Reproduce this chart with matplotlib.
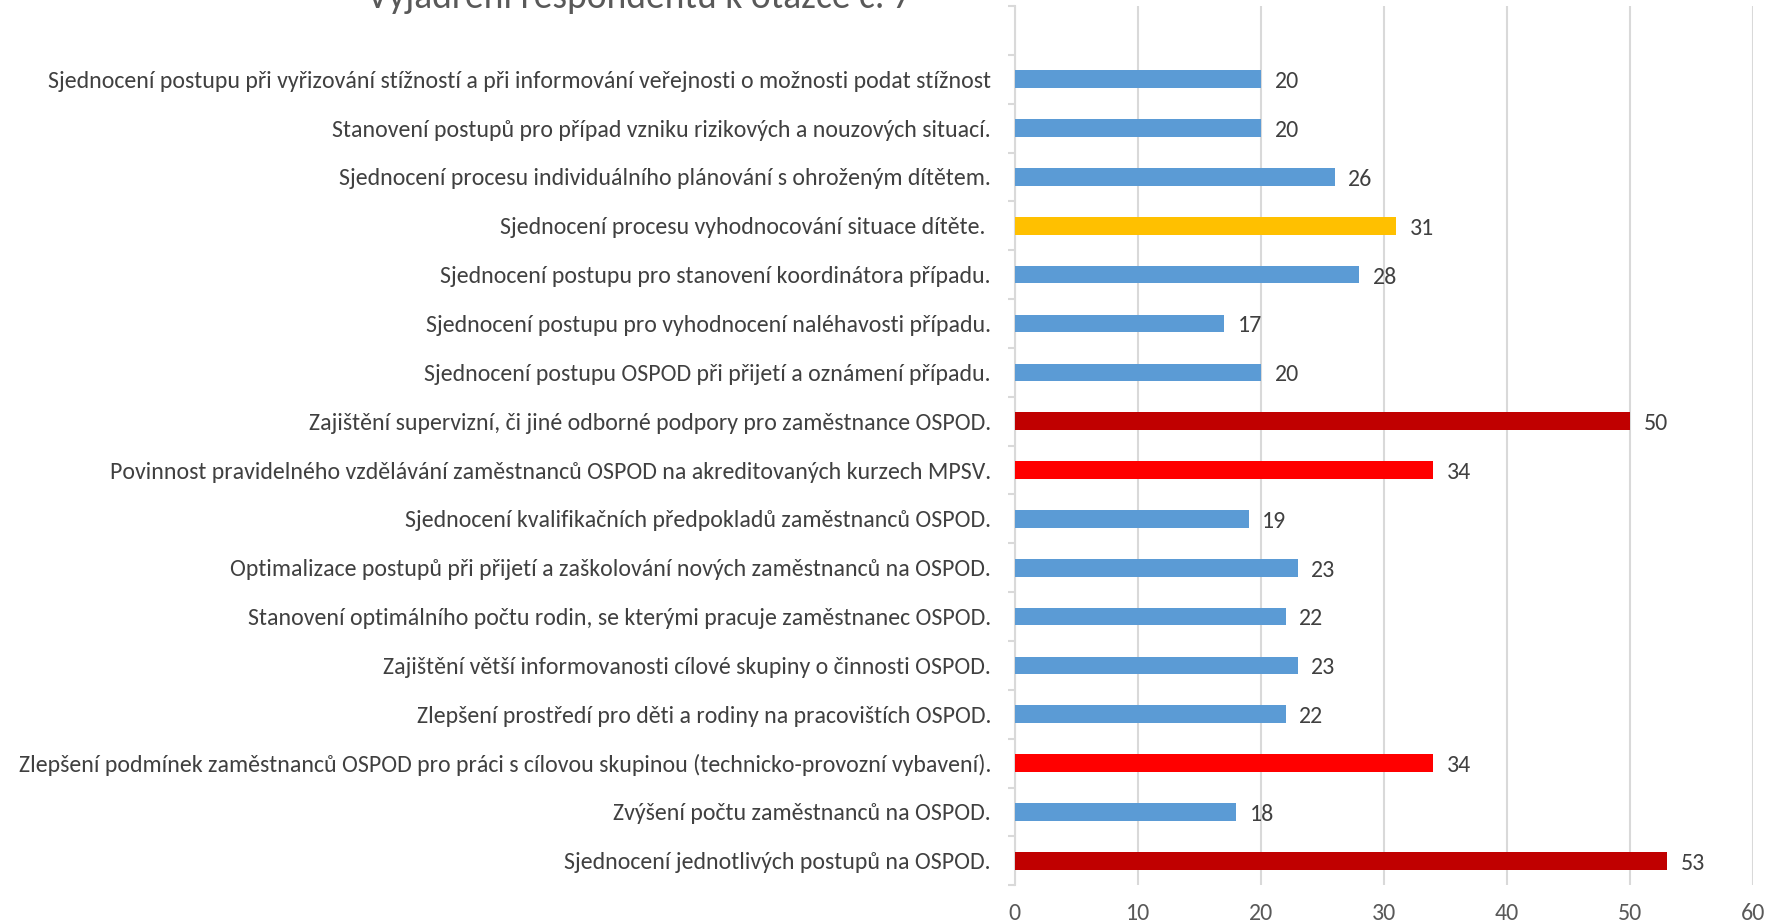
import matplotlib
matplotlib.use("Agg")
from matplotlib import pyplot as plt
import numpy as np

# Categories listed bottom to top, as they appear on the chart
categories = [
    "Sjednocení jednotlivých postupů na OSPOD.",
    "Zvýšení počtu zaměstnanců na OSPOD.",
    "Zlepšení podmínek zaměstnanců OSPOD pro práci s cílovou skupinou (technicko-provozní vybavení).",
    "Zlepšení prostředí pro děti a rodiny na pracovištích OSPOD.",
    "Zajištění větší informovanosti cílové skupiny o činnosti OSPOD.",
    "Stanovení optimálního počtu rodin, se kterými pracuje zaměstnanec OSPOD.",
    "Optimalizace postupů při přijetí a zaškolování nových zaměstnanců na OSPOD.",
    "Sjednocení kvalifikačních předpokladů zaměstnanců OSPOD.",
    "Povinnost pravidelného vzdělávání zaměstnanců OSPOD na akreditovaných kurzech MPSV.",
    "Zajištění supervizní, či jiné odborné podpory pro zaměstnance OSPOD.",
    "Sjednocení postupu OSPOD při přijetí a oznámení případu.",
    "Sjednocení postupu pro vyhodnocení naléhavosti případu.",
    "Sjednocení postupu pro stanovení koordinátora případu.",
    "Sjednocení procesu vyhodnocování situace dítěte. ",
    "Sjednocení procesu individuálního plánování s ohroženým dítětem.",
    "Stanovení postupů pro případ vzniku rizikových a nouzových situací.",
    "Sjednocení postupu při vyřizování stížností a při informování veřejnosti o možnosti podat stížnost",
]
values = [53, 18, 34, 22, 23, 22, 23, 19, 34, 50, 20, 17, 28, 31, 26, 20, 20]

# highlight group per bar: 0 = normal, 1 = strongest, 2 = strong, 3 = highlighted
groups = [1, 0, 2, 0, 0, 0, 0, 0, 2, 1, 0, 0, 0, 3, 0, 0, 0]
palette = {0: "#5B9BD5", 1: "#C00000", 2: "#FF0000", 3: "#FFC000"}

title = "Vyjádření respondentů k otázce č. 7"
xticks = [0, 10, 20, 30, 40, 50, 60]

plt.rcParams["font.family"] = ["Carlito", "DejaVu Sans"]
text_color = "#404040"
grid_color = "#D9D9D9"
fs = 17.2

fig = plt.figure(figsize=(17.82, 9.24), dpi=100)
ax = fig.add_axes([0.5694, 0.042, 0.4146, 0.9515])

y = np.arange(len(categories))
colors = [palette[g] for g in groups]
bars = ax.barh(y, values, height=0.36, color=colors, zorder=3)

for b, v in zip(bars, values):
    ax.text(b.get_width() + 1.1, b.get_y() + b.get_height() / 2 - 0.05, str(v),
            va="center", ha="left", fontsize=fs, color=text_color)

ax.set_xlim(0, 60)
ax.set_ylim(-0.5, len(categories) + 0.5)
ax.set_xticks(xticks)
ax.set_xticklabels([str(t) for t in xticks], fontsize=fs, color="#595959")
ax.tick_params(axis="x", length=0, pad=13)
ax.xaxis.grid(True, color=grid_color, linewidth=1.5, zorder=0)

ax.set_yticks(y)
ax.set_yticklabels(categories, fontsize=fs, color=text_color)
ax.tick_params(axis="y", which="major", length=0, pad=17)
ax.set_yticks(np.arange(-0.5, len(categories) + 1, 1.0), minor=True)
ax.tick_params(axis="y", which="minor", length=5, color=grid_color, width=1.5)

for side in ["top", "right", "bottom"]:
    ax.spines[side].set_visible(False)
ax.spines["left"].set_color(grid_color)
ax.spines["left"].set_linewidth(1.5)

# the title sits mostly above the top edge, as in the reference
fig.text(0.359, 1 - 8 / 924, title, ha="center", va="baseline",
         fontsize=27, color="#595959")

fig.savefig("out.png", dpi=100)
